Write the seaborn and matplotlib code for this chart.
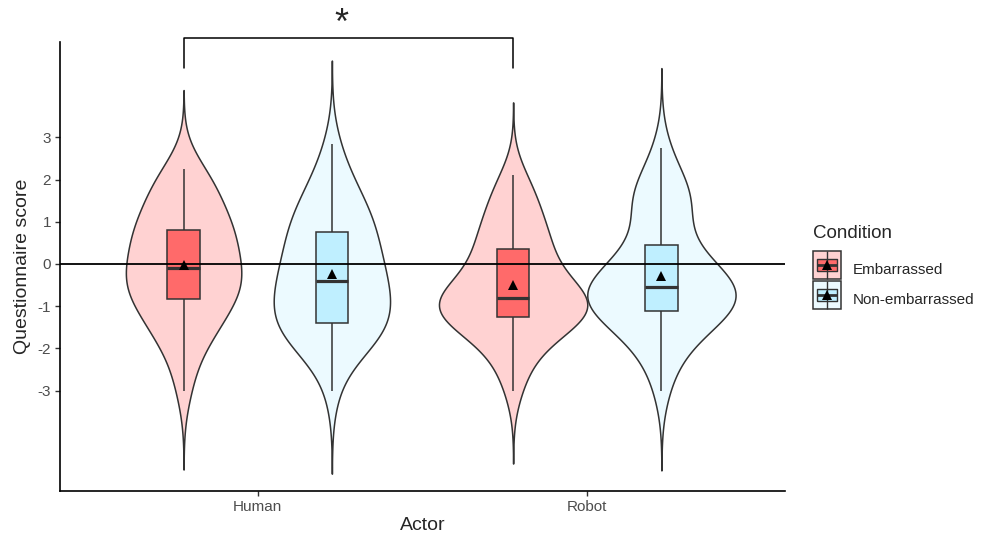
import numpy as np
import pandas as pd
import matplotlib
matplotlib.use("Agg")
import matplotlib.pyplot as plt
import seaborn as sns
from matplotlib.lines import Line2D
from matplotlib.legend_handler import HandlerTuple

# --- dados (escores) ---

atores = ["Human", "Robot"]
condicoes = ["Embarrassed", "Non-embarrassed"]

human_emb = [-3.0, -2.5, -2.0, -1.75, -1.6, -1.5, -1.4, -1.25, -1.1, -0.9,
             -0.8, -0.75, -0.65, -0.55, -0.5, -0.45, -0.4, -0.3, -0.2, -0.1,
             -0.1, 0.05, 0.2, 0.35, 0.5, 0.6, 0.7, 0.75, 0.75, 0.75,
             0.95, 1.1, 1.25, 1.4, 1.5, 1.75, 1.9, 2.0, 2.1, 2.25]
human_non = [-3.0, -2.25, -2.0, -2.0, -1.75, -1.75, -1.5, -1.5, -1.5, -1.4,
             -1.4, -1.25, -1.1, -1.0, -0.9, -0.75, -0.7, -0.6, -0.5, -0.4,
             -0.4, -0.25, -0.1, 0.0, 0.1, 0.25, 0.4, 0.5, 0.6, 0.75,
             0.8, 1.0, 1.1, 1.25, 1.4, 1.5, 1.75, 2.0, 2.25, 2.85]
robot_emb = [-3.0, -2.5, -2.25, -2.0, -1.75, -1.6, -1.5, -1.4, -1.35, -1.3,
             -1.25, -1.2, -1.1, -1.05, -1.0, -1.0, -0.95, -0.9, -0.85, -0.8,
             -0.8, -0.7, -0.6, -0.5, -0.4, -0.25, -0.1, 0.0, 0.2, 0.35,
             0.4, 0.5, 0.7, 0.85, 1.0, 1.2, 1.4, 1.6, 1.85, 2.1]
robot_non = [-3.0, -2.4, -2.1, -1.9, -1.7, -1.5, -1.4, -1.3, -1.2, -1.15,
             -1.1, -1.0, -0.95, -0.9, -0.85, -0.8, -0.75, -0.7, -0.65, -0.6,
             -0.5, -0.45, -0.4, -0.3, -0.25, -0.15, -0.05, 0.1, 0.25, 0.4,
             0.6, 0.9, 1.25, 1.4, 1.5, 1.6, 1.75, 1.9, 2.2, 2.75]

cores_box = {"Embarrassed": "#FF6A6A", "Non-embarrassed": "#BFEFFF"}
cores_violino = {"Embarrassed": "#FFD2D2", "Non-embarrassed": "#ECFAFF"}
cor_linha = "#333333"

grupos = [("Human", "Embarrassed", human_emb), ("Human", "Non-embarrassed", human_non),
          ("Robot", "Embarrassed", robot_emb), ("Robot", "Non-embarrassed", robot_non)]
df = pd.concat([pd.DataFrame({"Actor": a, "Condition": c, "score": v}) for a, c, v in grupos],
               ignore_index=True)

# --- figura ---

sns.set_style("white", {"xtick.bottom": True, "ytick.left": True})
plt.rcParams["font.family"] = ["Liberation Sans", "DejaVu Sans"]
plt.rcParams["axes.unicode_minus"] = False

fig = plt.figure(figsize=(9.82, 5.36), dpi=100)
ax = fig.add_axes([60 / 982, 45 / 536, 725 / 982, 449 / 536])

sns.violinplot(data=df, x="Actor", y="score", hue="Condition", order=atores, hue_order=condicoes,
               palette=cores_violino, saturation=1, width=0.9, cut=3, inner=None, gridsize=200,
               linewidth=1.1, linecolor=cor_linha, legend=False, ax=ax)
sns.boxplot(data=df, x="Actor", y="score", hue="Condition", order=atores, hue_order=condicoes,
            palette=cores_box, saturation=1, width=0.9, gap=0.78, showcaps=False, showfliers=False,
            linewidth=1.1, linecolor=cor_linha, medianprops={"linewidth": 2.3},
            legend=False, ax=ax)
ax.axhline(0, color="black", lw=1.3, zorder=3)
sns.pointplot(data=df, x="Actor", y="score", hue="Condition", order=atores, hue_order=condicoes,
              palette={"Embarrassed": "black", "Non-embarrassed": "black"}, estimator="mean",
              errorbar=None, dodge=0.45, markers="^", linestyle="none", markersize=7.5,
              markeredgewidth=0, legend=False, ax=ax, zorder=5)

ax.set_xlim(-0.6, 1.6)
ax.set_ylim(-5.38, 5.26)
ax.set_yticks(range(-3, 4))
ax.set_xlabel("Actor", fontsize=14, labelpad=2)
ax.set_ylabel("Questionnaire score", fontsize=14, labelpad=5)
ax.tick_params(axis="both", direction="out", length=3.5, width=1.0, color=cor_linha,
               labelsize=11, labelcolor="#4D4D4D", pad=3, bottom=True, left=True)
sns.despine(ax=ax)
for lado in ["left", "bottom"]:
    ax.spines[lado].set_color("black")
    ax.spines[lado].set_linewidth(1.2)

# --- barra de significancia ---
x1, x2 = -0.225, 0.775
ax.plot([x1, x1, x2, x2], [4.65, 5.36, 5.36, 4.65], color="black", lw=1.1, clip_on=False)
ax.text((x1 + x2) / 2 - 0.02, 5.68, "*", ha="center", va="center", fontsize=26, clip_on=False)

# --- legenda ---
caixa = [(-1, -0.62), (1, -0.62), (1, 0.62), (-1, 0.62), (-1, -0.62)]
handles = []
for c in condicoes:
    handles.append((
        Line2D([], [], linestyle="none", marker="s", markersize=20.5,
               markerfacecolor=cores_violino[c], markeredgecolor=cor_linha, markeredgewidth=1.1),
        Line2D([], [], linestyle="none", marker=caixa, markersize=15,
               markerfacecolor=cores_box[c], markeredgecolor=cor_linha, markeredgewidth=1.0),
        Line2D([], [], linestyle="none", marker="|", markersize=20.5, markeredgecolor=cor_linha,
               markeredgewidth=1.0),
        Line2D([], [], linestyle="none", marker="_", markersize=15, markeredgecolor=cor_linha,
               markeredgewidth=2.0),
        Line2D([], [], linestyle="none", marker="^", markersize=7, color="black",
               markeredgewidth=0),
    ))
fig.text(813 / 982, 1 - 233 / 536, "Condition", fontsize=13.5, ha="left", va="center")
fig.legend(handles, condicoes, loc="upper left",
           bbox_to_anchor=(813 / 982, 1 - 255 / 536), frameon=False, fontsize=11,
           handlelength=1.83, handleheight=2.54,
           labelspacing=0.07, handletextpad=0.8, borderpad=0, borderaxespad=0,
           handler_map={tuple: HandlerTuple(ndivide=1, pad=0)})

fig.savefig("out.png", dpi=100)
